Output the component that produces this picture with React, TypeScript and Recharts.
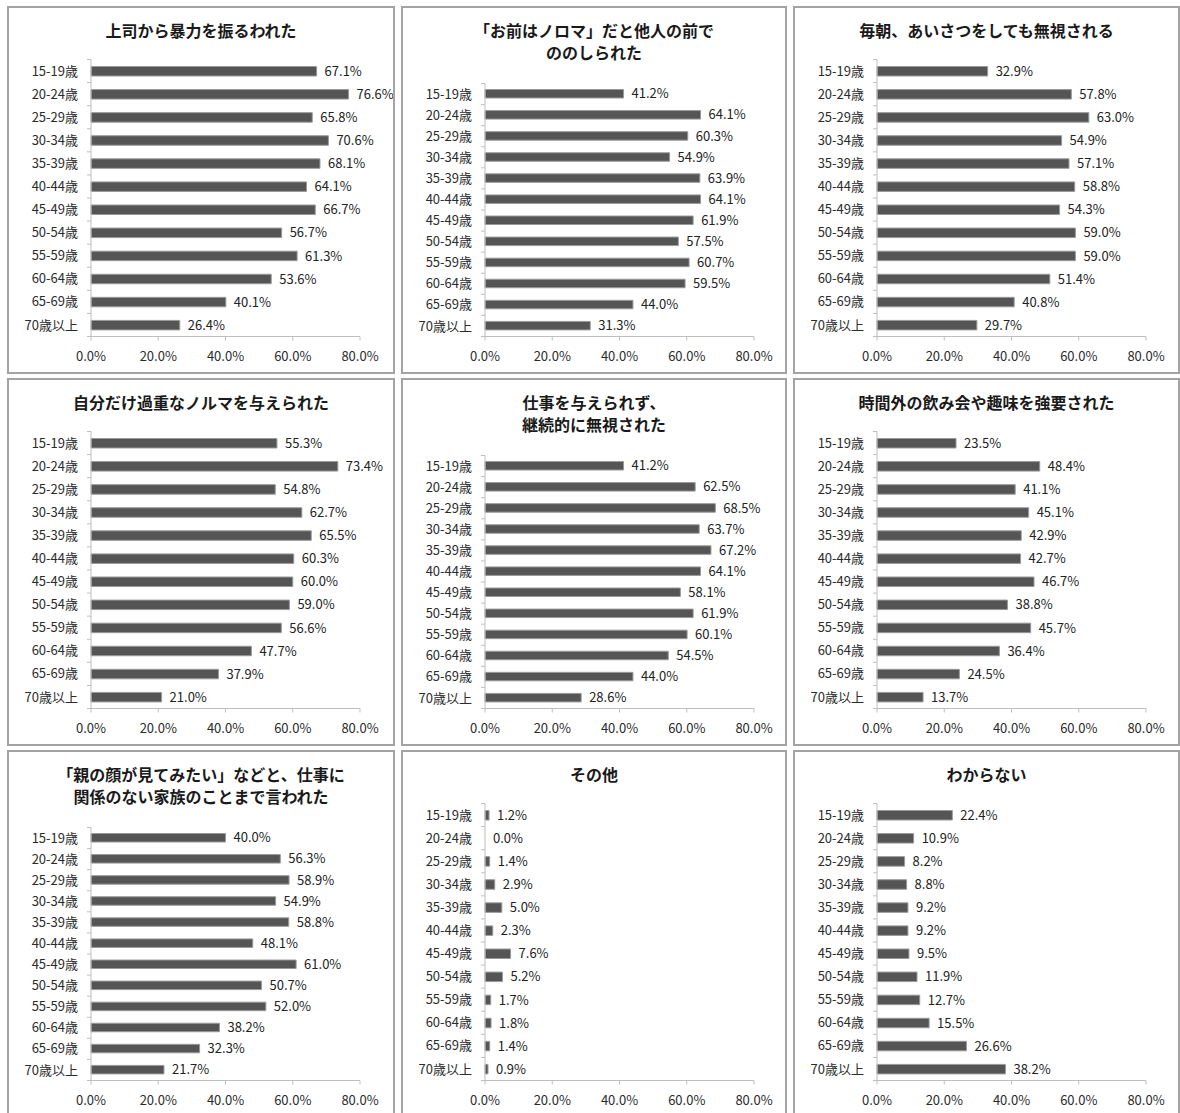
import React from 'react';
import { BarChart, Bar, XAxis, YAxis, LabelList, Cell } from 'recharts';

const ageGroups = [
  '15-19歳', '20-24歳', '25-29歳', '30-34歳', '35-39歳', '40-44歳',
  '45-49歳', '50-54歳', '55-59歳', '60-64歳', '65-69歳', '70歳以上',
];

const xTicks = [0, 20, 40, 60, 80];

const violence = [67.1, 76.6, 65.8, 70.6, 68.1, 64.1, 66.7, 56.7, 61.3, 53.6, 40.1, 26.4];
const insulted = [41.2, 64.1, 60.3, 54.9, 63.9, 64.1, 61.9, 57.5, 60.7, 59.5, 44.0, 31.3];
const ignoredGreeting = [32.9, 57.8, 63.0, 54.9, 57.1, 58.8, 54.3, 59.0, 59.0, 51.4, 40.8, 29.7];
const heavyQuota = [55.3, 73.4, 54.8, 62.7, 65.5, 60.3, 60.0, 59.0, 56.6, 47.7, 37.9, 21.0];
const noWork = [41.2, 62.5, 68.5, 63.7, 67.2, 64.1, 58.1, 61.9, 60.1, 54.5, 44.0, 28.6];
const forcedDrinking = [23.5, 48.4, 41.1, 45.1, 42.9, 42.7, 46.7, 38.8, 45.7, 36.4, 24.5, 13.7];
const familyRemarks = [40.0, 56.3, 58.9, 54.9, 58.8, 48.1, 61.0, 50.7, 52.0, 38.2, 32.3, 21.7];
const other = [1.2, 0.0, 1.4, 2.9, 5.0, 2.3, 7.6, 5.2, 1.7, 1.8, 1.4, 0.9];
const unknown = [22.4, 10.9, 8.2, 8.8, 9.2, 9.2, 9.5, 11.9, 12.7, 15.5, 26.6, 38.2];

const titles = [
  ['上司から暴力を振るわれた'],
  ['「お前はノロマ」だと他人の前で', 'ののしられた'],
  ['毎朝、あいさつをしても無視される'],
  ['自分だけ過重なノルマを与えられた'],
  ['仕事を与えられず、', '継続的に無視された'],
  ['時間外の飲み会や趣味を強要された'],
  ['「親の顔が見てみたい」などと、仕事に', '関係のない家族のことまで言われた'],
  ['その他'],
  ['わからない'],
];

const seriesList = [
  violence, insulted, ignoredGreeting,
  heavyQuota, noWork, forcedDrinking,
  familyRemarks, other, unknown,
];

// panel grid (page coordinates)
const colLeft = [7, 401, 793];
const colWidth = [388, 386, 387];
const rowTop = [6, 378, 750];
const PANEL_H = 368;

const FONT = '"Noto Sans CJK JP", "Noto Sans", sans-serif';
const AXIS_GRAY = '#bfbfbf';

const pct = (v: number) => `${v.toFixed(1)}%`;

// category label plus Excel-style tick marks sitting between the bands
const AgeTick = (props: any) => {
  const { x, y, payload, index, band, count } = props;
  const axisX = x + 13;
  return (
    <g>
      <line x1={axisX - 4} x2={axisX} y1={y - band / 2} y2={y - band / 2} stroke={AXIS_GRAY} />
      {index === count - 1 && (
        <line x1={axisX - 4} x2={axisX} y1={y + band / 2} y2={y + band / 2} stroke={AXIS_GRAY} />
      )}
      <text x={x} y={y} dy="0.355em" textAnchor="end" fill="#2b2b2b" fontSize={13} fontFamily={FONT}>
        {payload.value}
      </text>
    </g>
  );
};

const Panel = ({ index }: { index: number }) => {
  const col = index % 3;
  const row = Math.floor(index / 3);
  const w = colWidth[col];
  const lines = titles[index];
  const twoLine = lines.length > 1;
  const plotTop = twoLine ? 77.5 : 53.5;
  const plotBottom = 330.5;
  const axisW = 84;
  const plotW = 269;
  const band = (plotBottom - plotTop) / ageGroups.length;

  const data = ageGroups.map((age, i) => ({ age, value: seriesList[index][i] }));

  return (
    <div
      style={{
        position: 'absolute',
        left: colLeft[col],
        top: rowTop[row],
        width: w,
        height: PANEL_H,
        background: '#fff',
      }}
    >
      <div
        style={{
          position: 'absolute',
          left: 0,
          right: 0,
          top: 13,
          textAlign: 'center',
          fontFamily: FONT,
          fontWeight: 700,
          fontSize: 16,
          lineHeight: '22px',
          color: '#1a1a1a',
        }}
      >
        {lines.map((l, i) => <div key={i}>{l}</div>)}
      </div>
      <div style={{ position: 'absolute', left: 0, top: 0 }}>
        <BarChart
          width={w}
          height={PANEL_H}
          data={data}
          layout="vertical"
          barSize={twoLine ? 8.5 : 9.5}
          margin={{ top: plotTop, right: w - axisW - plotW, bottom: PANEL_H - plotBottom - 30, left: 0 }}
        >
          <XAxis
            type="number"
            domain={[0, 80]}
            ticks={xTicks}
            tickFormatter={pct}
            height={30}
            tickSize={4}
            tickMargin={11}
            interval={0}
            axisLine={{ stroke: AXIS_GRAY }}
            tickLine={{ stroke: AXIS_GRAY }}
            tick={{ fill: '#2b2b2b', fontSize: 13, fontFamily: FONT }}
          />
          <YAxis
            type="category"
            dataKey="age"
            width={axisW}
            interval={0}
            tickSize={5}
            tickMargin={8}
            tickLine={false}
            axisLine={{ stroke: AXIS_GRAY }}
            tick={(p: any) => <AgeTick {...p} band={band} count={ageGroups.length} />}
          />
          <Bar
            dataKey="value"
            fill="#555555"
            stroke="#9a9a9a"
            strokeWidth={1}
            minPointSize={0.01}
            isAnimationActive={false}
          >
            {data.map((d, i) => (
              <Cell key={i} stroke={d.value === 0 ? 'none' : '#9a9a9a'} />
            ))}
            <LabelList
              dataKey="value"
              position="right"
              offset={8}
              formatter={(v: any) => pct(Number(v))}
              style={{ fill: '#222', fontSize: 13, fontFamily: FONT }}
            />
          </Bar>
        </BarChart>
      </div>
      <div
        style={{
          position: 'absolute',
          inset: 0,
          border: '2px solid #a3a3a3',
          pointerEvents: 'none',
        }}
      />
    </div>
  );
};

export default function App() {
  return (
    <div style={{ position: 'absolute', left: 0, top: 0, width: 1180, height: 1113, overflow: 'hidden', background: '#fff' }}>
      {titles.map((_, i) => <Panel key={i} index={i} />)}
    </div>
  );
}
